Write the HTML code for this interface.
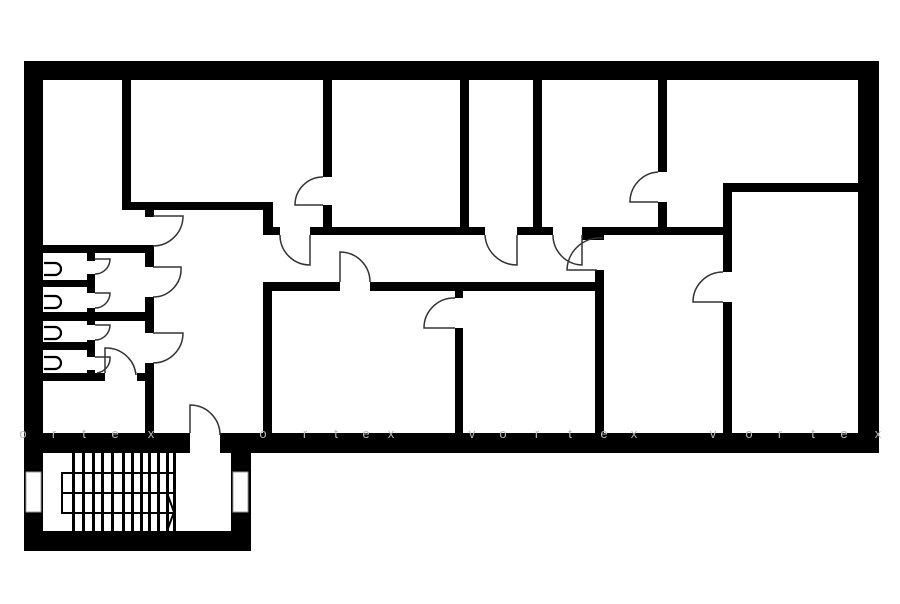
<!DOCTYPE html>
<html><head><meta charset="utf-8"><style>
html,body{margin:0;padding:0;background:#fff;}
svg{display:block;}
</style></head><body>
<svg width="900" height="604" viewBox="0 0 900 604" xmlns="http://www.w3.org/2000/svg">
<rect width="900" height="604" fill="#fff"/>
<g fill="#000">
<!-- outer walls -->
<rect x="24" y="61" width="855" height="19"/>
<rect x="24" y="61" width="19" height="392"/>
<rect x="858" y="61" width="21" height="392"/>
<rect x="24" y="433" width="166" height="20"/>
<rect x="220" y="433" width="659" height="20"/>
<!-- stair block -->
<rect x="24" y="433" width="19" height="118"/>
<rect x="231" y="433" width="20" height="118"/>
<rect x="24" y="531" width="227" height="20"/>
<!-- top left room -->
<rect x="122" y="80" width="9" height="130"/>
<rect x="122" y="202" width="151" height="8"/>
<rect x="145" y="202" width="9" height="15"/>
<rect x="263" y="202" width="10" height="33"/>
<rect x="263" y="227" width="17" height="8"/>
<!-- corridor top wall -->
<rect x="310" y="227" width="175" height="8"/>
<rect x="517" y="227" width="36" height="8"/>
<rect x="582" y="227" width="150" height="8"/>
<rect x="582" y="233" width="22" height="7"/>
<!-- top verticals -->
<rect x="323" y="80" width="9" height="97"/>
<rect x="323" y="205" width="9" height="25"/>
<rect x="460" y="80" width="9" height="150"/>
<rect x="533" y="80" width="9" height="150"/>
<rect x="658" y="80" width="9" height="92"/>
<rect x="658" y="202" width="9" height="28"/>
<!-- right room -->
<rect x="723" y="183" width="136" height="9"/>
<rect x="723" y="183" width="9" height="89"/>
<rect x="723" y="302" width="9" height="135"/>
<!-- corridor bottom wall -->
<rect x="263" y="282" width="77" height="9"/>
<rect x="370" y="282" width="233" height="9"/>
<rect x="263" y="282" width="9" height="155"/>
<rect x="455" y="282" width="8" height="16"/>
<rect x="455" y="328" width="8" height="108"/>
<rect x="595" y="270" width="9" height="166"/>
<!-- bathroom area -->
<rect x="43" y="245" width="110" height="8"/>
<rect x="145" y="245" width="9" height="22"/>
<rect x="145" y="297" width="9" height="36"/>
<rect x="145" y="363" width="9" height="72"/>
<rect x="43" y="280" width="52" height="7"/>
<rect x="43" y="312" width="110" height="9"/>
<rect x="43" y="342" width="52" height="8"/>
<rect x="43" y="373" width="62" height="8"/>
<rect x="137" y="373" width="16" height="8"/>
<rect x="87" y="253" width="8" height="8"/>
<rect x="87" y="274" width="8" height="19"/>
<rect x="87" y="308" width="8" height="17"/>
<rect x="87" y="340" width="8" height="17"/>
<rect x="87" y="370" width="8" height="11"/>
<!-- stairs -->
<rect x="72" y="453" width="3" height="78"/>
<rect x="82" y="453" width="3" height="78"/>
<rect x="92" y="453" width="3" height="78"/>
<rect x="101" y="453" width="3" height="78"/>
<rect x="111" y="453" width="3" height="78"/>
<rect x="122" y="453" width="3" height="78"/>
<rect x="131" y="453" width="3" height="78"/>
<rect x="140" y="453" width="3" height="78"/>
<rect x="148" y="453" width="3" height="78"/>
<rect x="157" y="453" width="3" height="78"/>
<rect x="166" y="453" width="3" height="78"/>
<rect x="173" y="453" width="3" height="78"/>
</g>
<!-- windows -->
<rect x="26" y="472" width="15" height="40" fill="#fff" stroke="#999" stroke-width="1"/>
<rect x="233" y="472" width="15" height="40" fill="#fff" stroke="#999" stroke-width="1"/>
<g fill="none" stroke="#000" stroke-width="2">
<rect x="62" y="473" width="112" height="40"/>
<line x1="62" y1="493" x2="174" y2="493"/>
<polyline points="167,493 174,512 167,531"/>
</g>
<!-- toilets -->
<g fill="none" stroke="#000" stroke-width="2.2">
<path d="M44,263 H55 A6,6 0 0 1 55,275 H44"/>
<path d="M44,296 H55 A6,6 0 0 1 55,308 H44"/>
<path d="M44,327 H55 A6,6 0 0 1 55,339 H44"/>
<path d="M44,357 H55 A6,6 0 0 1 55,369 H44"/>
</g>
<!-- doors -->
<g fill="none" stroke="#333" stroke-width="1.5">
<path d="M153,216 H183 A30,30 0 0 1 153,246"/>
<path d="M153,267 H181 A28,28 0 0 1 153,297"/>
<path d="M153,333 H183 A30,30 0 0 1 153,363"/>
<path d="M95,259 H110 A15,15 0 0 1 95,274"/>
<path d="M95,293 H110 A15,15 0 0 1 95,308"/>
<path d="M95,325 H110 A15,15 0 0 1 95,340"/>
<path d="M95,357 H110 A15,15 0 0 1 97,373"/>
<path d="M105,373 V348 A30,30 0 0 1 136,375"/>
<path d="M190,433 V405 A30,30 0 0 1 220,435"/>
<path d="M310,235 V265 A30,30 0 0 1 280,235"/>
<path d="M323,205 H295 A28,28 0 0 1 323,177"/>
<path d="M517,235 V265 A32,32 0 0 1 485,235"/>
<path d="M582,235 V265 A30,30 0 0 1 553,235"/>
<path d="M597,270 H567 A33,33 0 0 1 603,238"/>
<path d="M340,282 V252 A30,30 0 0 1 370,282"/>
<path d="M455,328 H424 A30,30 0 0 1 455,298"/>
<path d="M658,202 H630 A30,30 0 0 1 658,172"/>
<path d="M723,302 H693 A30,30 0 0 1 723,272"/>
</g>
<!-- watermark -->
<g fill="#b8b8b8" font-family="Liberation Sans, sans-serif" font-size="13" text-anchor="middle">
<text x="23" y="438">o</text><text x="54" y="438">r</text><text x="84" y="438">t</text><text x="115" y="438">e</text><text x="151" y="438">x</text>
<text x="263" y="438">o</text><text x="305" y="438">r</text><text x="336" y="438">t</text><text x="366" y="438">e</text><text x="391" y="438">x</text>
<text x="472" y="438">v</text><text x="503" y="438">o</text><text x="537" y="438">r</text><text x="570" y="438">t</text><text x="604" y="438">e</text><text x="634" y="438">x</text>
<text x="713" y="438">v</text><text x="749" y="438">o</text><text x="780" y="438">r</text><text x="813" y="438">t</text><text x="844" y="438">e</text><text x="878" y="438">x</text>
</g>
</svg>
</body></html>
